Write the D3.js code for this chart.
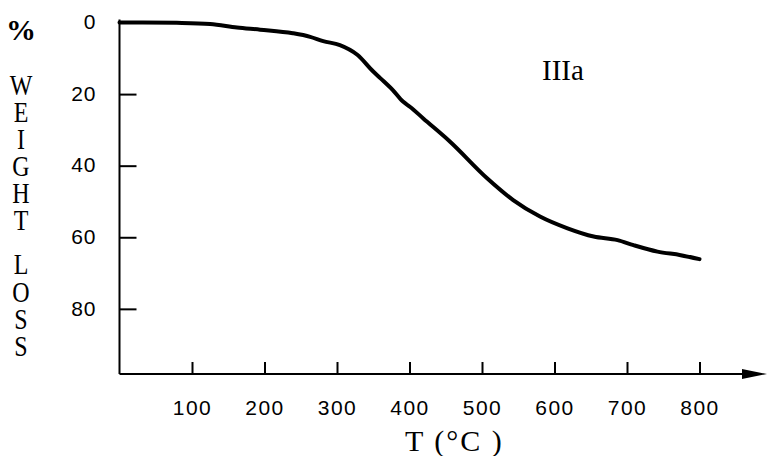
<!DOCTYPE html>
<html>
<head>
<script src="https://d3js.org/d3.v7.min.js"></script>
<style>
  body { margin: 0; background: white; }
  svg { display: block; }
</style>
</head>
<body>
<svg id="chart" width="768" height="456"></svg>
<script>
// temperature (°C)
var temps = [0, 32, 79, 125, 162, 194, 239, 263, 281, 304, 328, 350, 360, 377, 391, 401, 419, 456, 507, 543, 580, 618, 654, 687, 709, 742, 774, 800];
// weight loss (%) at each temperature
var losses = [0, 0, 0.1, 0.4, 1.4, 2.0, 3.0, 4.0, 5.2, 6.3, 9.0, 13.7, 15.6, 18.9, 22.1, 23.6, 26.8, 33.3, 43.5, 49.6, 54.2, 57.5, 59.8, 60.8, 62.2, 64.0, 65.0, 66.1];
var xTicks = [100, 200, 300, 400, 500, 600, 700, 800];
var yTicks = [0, 20, 40, 60, 80];
var yTitle = "WEIGHT LOSS";

var svg = d3.select("#chart");

var x = d3.scaleLinear().domain([0, 800]).range([119.5, 699.5]);
var y = d3.scaleLinear().domain([0, 98.2]).range([22.5, 374]);

var numFont = "'Liberation Sans', Arial, sans-serif";
var serif = "'Liberation Serif', 'Times New Roman', serif";

// y axis, ticks pointing into the plot
var yAxis = svg.append("g")
    .attr("transform", "translate(" + x(0) + ",0)")
    .call(d3.axisLeft(y).tickValues(yTicks).tickSize(-17).tickSizeOuter(0).tickPadding(23));
yAxis.select(".domain").attr("stroke-width", 2).attr("d", "M0," + (y(0) - 3) + "V" + y(98.2));
yAxis.selectAll(".tick line").attr("stroke-width", 2);
yAxis.selectAll("text")
    .style("font-family", numFont).style("font-size", "21px")
    .style("letter-spacing", "1px")
    .attr("fill", "#000").attr("dy", "0.3em");

// x axis, ticks pointing up
var xAxis = svg.append("g")
    .attr("transform", "translate(0," + y(98.2) + ")")
    .call(d3.axisBottom(x).tickValues(xTicks).tickSize(-12).tickSizeOuter(0).tickPadding(26));
xAxis.select(".domain").remove();
xAxis.selectAll(".tick line").attr("stroke-width", 2);
xAxis.selectAll("text")
    .style("font-family", numFont).style("font-size", "21px")
    .style("letter-spacing", "1.5px")
    .attr("fill", "#000");

// x axis line with arrow
var axY = y(98.2);
svg.append("line")
    .attr("x1", x(0)).attr("x2", 745)
    .attr("y1", axY).attr("y2", axY)
    .attr("stroke", "#000").attr("stroke-width", 2);
svg.append("path")
    .attr("d", "M742," + (axY - 5) + "L767," + axY + "L742," + (axY + 5) + "Z")
    .attr("fill", "#000");

// curve
var pts = temps.map(function (t, i) { return [t, losses[i]]; });
var line = d3.line()
    .x(function (d) { return x(d[0]); })
    .y(function (d) { return y(d[1]); })
    .curve(d3.curveMonotoneX);
svg.append("path")
    .datum(pts)
    .attr("d", line)
    .attr("fill", "none")
    .attr("stroke", "#000")
    .attr("stroke-width", 4)
    .attr("stroke-linejoin", "round")
    .attr("stroke-linecap", "round");

// sample label
svg.append("text")
    .attr("x", 542).attr("y", 80)
    .style("font-family", serif).style("font-size", "29px")
    .text("IIIa");

// x axis title
svg.append("text")
    .attr("x", 405).attr("y", 451)
    .style("font-family", serif).style("font-size", "30px")
    .style("letter-spacing", "2px")
    .text("T (°C )");

// vertical y axis title: % then WEIGHT LOSS stacked upright
svg.append("text")
    .attr("x", 21).attr("y", 40)
    .attr("text-anchor", "middle")
    .style("font-family", serif).style("font-size", "30px").style("font-weight", "bold")
    .text("%");
svg.append("text")
    .attr("transform", "translate(21,68) scale(0.8,1)")
    .attr("x", 0).attr("y", 0)
    .style("writing-mode", "vertical-rl")
    .style("text-orientation", "upright")
    .style("letter-spacing", "-6px")
    .style("word-spacing", "-10px")
    .style("font-family", serif).style("font-size", "30px")
    .text(yTitle);
</script>
</body>
</html>
